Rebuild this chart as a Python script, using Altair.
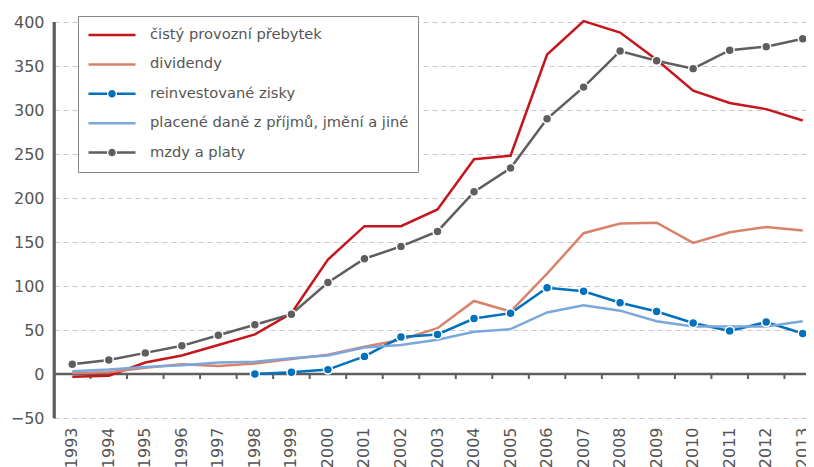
import math
import altair as alt
import pandas as pd

years = list(range(1993, 2014))
series_names = [
    "čistý provozní přebytek",
    "dividendy",
    "reinvestované zisky",
    "placené daně z příjmů, jmění a jiné",
    "mzdy a platy",
]
cisty_provozni_prebytek = [-3, -2, 13, 21, 33, 45, 69, 130, 168, 168, 187, 244, 248, 363, 401, 388, 357, 322, 308, 301, 288]
dividendy = [1, 2, 7, 11, 9, 12, 17, 22, 31, 39, 52, 83, 71, 114, 160, 171, 172, 149, 161, 167, 163]
reinvestovane_zisky = [None, None, None, None, None, 0, 2, 5, 20, 42, 45, 63, 69, 98, 94, 81, 71, 58, 49, 59, 46]
placene_dane = [3, 5, 8, 10, 13, 14, 18, 21, 30, 33, 39, 48, 51, 70, 78, 72, 60, 54, 54, 54, 60]
mzdy_a_platy = [11, 16, 24, 32, 44, 56, 68, 104, 131, 145, 162, 207, 234, 290, 326, 367, 356, 347, 368, 372, 381]
series_colors = ["#C4161C", "#D9826A", "#0071BC", "#7BA7DC", "#5E5E5E"]
marker_series = ["reinvestované zisky", "mzdy a platy"]
y_ticks = [-50, 0, 50, 100, 150, 200, 250, 300, 350, 400]

all_values = [cisty_provozni_prebytek, dividendy, reinvestovane_zisky, placene_dane, mzdy_a_platy]
rows = []
for name, vals in zip(series_names, all_values):
    for yr, v in zip(years, vals):
        if v is not None:
            rows.append({"rok": str(yr), "rada": name, "hodnota": v})
df = pd.DataFrame(rows)

FONT = "DejaVu Sans"
TEXT = "#555555"
AXIS = "#5E5E5E"

x_scale = alt.Scale(type="band", domain=[str(y) for y in years], paddingInner=0, paddingOuter=0)
y_scale = alt.Scale(domain=[y_ticks[0], y_ticks[-1]], nice=False, zero=False)
color_scale = alt.Scale(domain=series_names, range=series_colors)


def ring(r, n=16):
    pts = [(r * math.cos(2 * math.pi * k / n), r * math.sin(2 * math.pi * k / n)) for k in range(n)]
    return "M" + "L".join(f"{px:.4f},{py:.4f}" for px, py in pts) + "Z"


line_sym = "M-1,0H1"
dot_sym = "M-1,0H-0.21M0.21,0H1" + ring(0.106) + ring(0.03)
shape_range = [dot_sym if s in marker_series else line_sym for s in series_names]

x_axis = alt.Axis(
    title=None, labelAngle=270, domain=False, ticks=False, grid=False,
    labelPadding=9, labelFontSize=16, labelColor=TEXT, labelFont=FONT,
)
y_axis = alt.Axis(
    title=None, values=y_ticks, grid=True, gridDash=[5, 4], gridColor="#C8C8C8",
    gridWidth=1, domain=True, domainColor=AXIS, domainWidth=2.5, ticks=False,
    labelPadding=10, labelFontSize=16, labelColor=TEXT, labelFont=FONT,
)

x_enc = alt.X("rok:O", scale=x_scale, axis=x_axis)
y_enc = alt.Y("hodnota:Q", scale=y_scale, axis=y_axis)

base = alt.Chart(df)

legend_layer = base.transform_filter("datum.hodnota > 100000").mark_point(
    filled=False, opacity=1
).encode(
    x=x_enc,
    y=y_enc,
    color=alt.Color("rada:N", scale=color_scale, legend=alt.Legend(title=None)),
    shape=alt.Shape("rada:N", scale=alt.Scale(domain=series_names, range=shape_range),
                    legend=alt.Legend(title=None)),
)

# vertical axis line: left edge of the first year's band, from the lowest to the highest tick
axis_line = base.transform_filter(
    alt.FieldEqualPredicate(field="rok", equal=str(years[0]))
).transform_aggregate(
    groupby=["rok"], n="count()"
).transform_calculate(
    dolni=str(y_ticks[0]), horni=str(y_ticks[-1])
).mark_rule(color=AXIS, strokeWidth=2.8).encode(
    x=alt.X("rok:O", scale=x_scale, axis=x_axis, bandPosition=0),
    y=alt.Y("dolni:Q", scale=y_scale, axis=y_axis),
    y2="horni:Q",
)

zero_line = base.transform_aggregate(nula="min(hodnota)").transform_calculate(
    nula="0"
).mark_rule(color=AXIS, strokeWidth=2.5).encode(
    y=alt.Y("nula:Q", scale=y_scale, axis=y_axis)
)

tick_marks = base.transform_aggregate(groupby=["rok"], n="count()").transform_calculate(
    nula="0"
).mark_rule(color=AXIS, strokeWidth=2, y2Offset=5).encode(
    x=alt.X("rok:O", scale=x_scale, axis=x_axis, bandPosition=0),
    y=alt.Y("nula:Q", scale=y_scale, axis=y_axis),
    y2="nula:Q",
)

lines = base.mark_line(strokeWidth=2.5).encode(
    x=x_enc,
    y=y_enc,
    color=alt.Color("rada:N", scale=color_scale, legend=None),
    detail="rada:N",
)

points = base.transform_filter(
    alt.FieldOneOfPredicate(field="rada", oneOf=marker_series)
).mark_point(filled=True, size=80, stroke="white", strokeWidth=1.5, opacity=1).encode(
    x=x_enc,
    y=y_enc,
    fill=alt.Fill("rada:N", scale=color_scale, legend=None),
)

chart = alt.layer(legend_layer, zero_line, tick_marks, lines, points, axis_line).properties(
    width=767,
    height=396,
    autosize=alt.AutoSizeParams(type="none"),
    padding={"left": 46, "top": 14, "right": -15, "bottom": 49},
).configure_view(
    strokeWidth=0
).configure_legend(
    orient="none", legendX=24, legendY=-6, padding=9,
    strokeColor="#888888", fillColor="white",
    labelFont=FONT, labelFontSize=14.7, labelColor=TEXT, labelLimit=400,
    symbolSize=2209, symbolStrokeWidth=2.5, symbolOpacity=1,
    clipHeight=20, rowPadding=9.4, labelOffset=13,
)

chart.save("out.html", embed_options={"renderer": "svg", "actions": False})
